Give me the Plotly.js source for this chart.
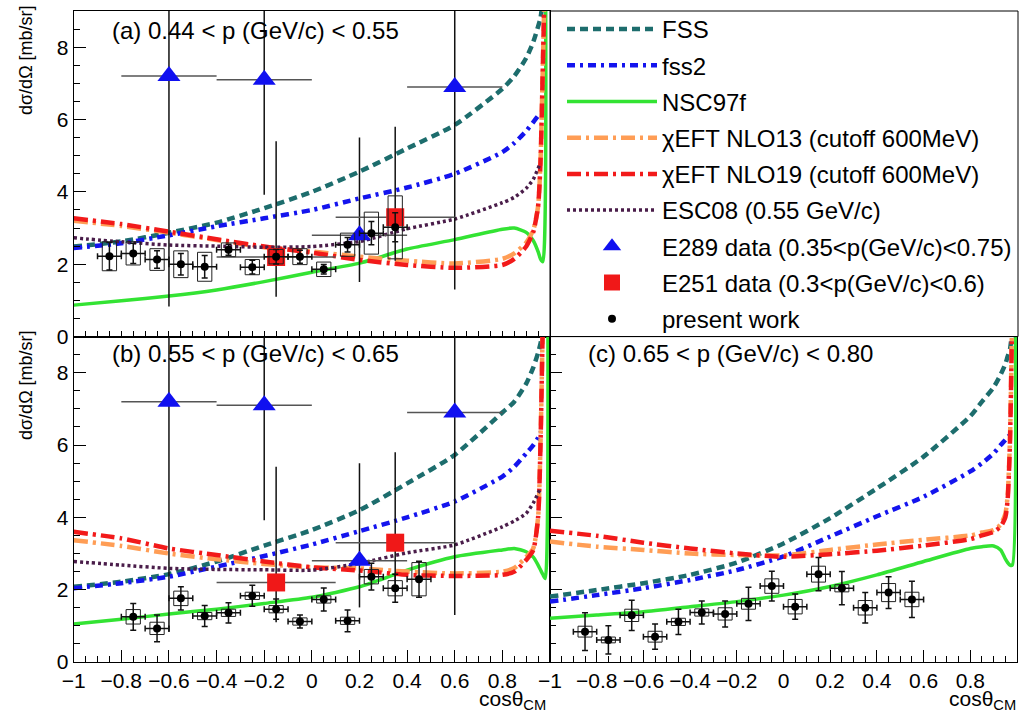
<!DOCTYPE html>
<html><head><meta charset="utf-8">
<script src="https://cdn.plot.ly/plotly-3.0.1.min.js"></script>
<style>html,body{margin:0;padding:0;background:#fff}#chart{width:1022px;height:712px}</style>
</head><body><div id="chart"></div>
<script>
// ---------- data ----------
const cosGrid = [-1,-0.8,-0.6,-0.4,-0.2,0,0.2,0.4,0.6,0.8,0.85,0.9,0.93,0.95,0.96,0.97,0.98,0.99];

// panel (a) 0.44 < p < 0.55
const fssA   = [2.49,2.63,2.87,3.15,3.55,4.0,4.56,5.2,5.85,6.85,7.2,7.7,8.15,8.57,8.8,9.3,null,null];
const fss2A  = [2.45,2.58,2.8,3.05,3.27,3.5,3.82,4.12,4.5,5.1,5.35,5.68,5.93,6.1,6.17,null,null,null];
const nscA   = [0.87,0.99,1.12,1.29,1.52,1.78,2.03,2.42,2.68,2.97,3.0,2.88,2.65,2.35,2.15,2.07,12,null];
const nlo13A = [3.2,3.06,2.87,2.67,2.47,2.35,2.21,2.1,2.02,2.15,2.3,2.6,2.95,3.6,4.8,7.5,10.5,null];
const nlo19A = [3.27,3.11,2.9,2.69,2.49,2.32,2.12,1.98,1.9,1.98,2.15,2.49,2.9,3.6,4.8,7.5,10.5,null];
const escA   = [2.73,2.62,2.53,2.5,2.47,2.49,2.63,2.98,3.25,3.7,3.85,4.1,4.35,4.65,4.8,null,null,null];

// panel (b) 0.55 < p < 0.65
const fssB   = [2.08,2.22,2.43,2.78,3.22,3.65,4.2,4.94,5.73,6.9,7.2,7.7,8.15,8.55,8.8,9.2,null,null];
const fss2B  = [2.04,2.18,2.36,2.64,2.93,3.25,3.62,4.0,4.44,5.13,5.4,5.77,6.0,6.2,6.35,null,null,null];
const nscB   = [1.05,1.18,1.33,1.46,1.62,1.79,2.08,2.54,2.91,3.1,3.14,3.05,2.9,2.68,2.55,2.42,2.31,12];
const nlo13B = [3.37,3.21,3.0,2.84,2.71,2.62,2.59,2.5,2.45,2.5,2.6,2.9,3.15,4.0,6.0,9.5,null,null];
const nlo19B = [3.6,3.42,3.14,2.96,2.78,2.62,2.53,2.41,2.38,2.41,2.5,2.82,3.1,4.0,6.0,9.5,null,null];
const escB   = [2.78,2.68,2.59,2.56,2.55,2.54,2.73,3.02,3.24,3.74,3.9,4.11,4.4,4.67,4.8,null,null,null];

// panel (c) 0.65 < p < 0.80
const fssC   = [1.81,1.99,2.18,2.41,2.75,3.28,3.98,4.8,5.68,6.8,7.2,7.6,7.95,8.24,8.45,8.65,9.2,null];
const fss2C  = [1.67,1.85,2.04,2.27,2.54,2.92,3.47,4.03,4.57,5.27,5.5,5.77,6.0,6.14,6.22,6.28,null,null];
const nscC   = [1.21,1.3,1.39,1.53,1.67,1.85,2.09,2.41,2.78,3.14,3.19,3.21,3.1,2.85,2.75,2.68,2.68,12];
const nlo13C = [3.33,3.19,3.1,3.0,2.96,2.95,3.1,3.25,3.38,3.5,3.58,3.65,3.8,4.1,4.6,6.2,10,null];
const nlo19C = [3.63,3.49,3.3,3.14,3.0,2.91,2.98,3.08,3.22,3.4,3.5,3.6,3.75,4.0,4.5,6.1,10,null];

// E289 data (same in a and b)
const e289X = [-0.6,-0.2,0.2,0.6];
const e289Y = [7.2,7.1,2.8,6.9];
const e289Xerr = [0.2,0.2,0.2,0.2];
const e289Up = [6,6,2.7,6];
const e289Down = [6.37,3.18,1.29,5.6];
// E251 data
const e251X = [-0.15,0.35];
const e251Y = [2.2,3.3];
const e251Xerr = [0.25,0.25];
const e251Up = [3.2,2.5];
const e251Down = [1.1,1.2];

// present work
const presAx = [-0.85,-0.75,-0.65,-0.55,-0.45,-0.35,-0.25,-0.15,-0.05,0.05,0.15,0.25,0.35];
const presAy = [2.22,2.30,2.13,2.0,1.93,2.40,1.92,2.21,2.21,1.86,2.54,2.86,3.02];
const presAstat = [0.38,0.28,0.24,0.3,0.31,0.15,0.19,0.2,0.18,0.13,0.2,0.32,0.4];
const presAsyst = [0.40,0.32,0.30,0.37,0.40,0.19,0.21,0.2,0.22,0.2,0.32,0.58,0.87];

const presBx = [-0.75,-0.65,-0.55,-0.45,-0.35,-0.25,-0.15,-0.05,0.05,0.15,0.25,0.35,0.45];
const presBy = [1.25,0.93,1.76,1.27,1.36,1.83,1.46,1.12,1.73,1.14,2.36,2.04,2.29];
const presBstat = [0.37,0.37,0.32,0.29,0.28,0.29,0.28,0.18,0.32,0.3,0.37,0.39,0.5];
const presBsyst = [0.2,0.17,0.2,0.1,0.1,0.1,0.1,0.1,0.1,0.1,0.2,0.21,0.46];

const presCx = [-0.85,-0.75,-0.65,-0.55,-0.45,-0.35,-0.25,-0.15,-0.05,0.05,0.15,0.25,0.35,0.45,0.55];
const presCy = [0.84,0.61,1.29,0.70,1.11,1.37,1.33,1.61,2.10,1.53,2.43,2.04,1.50,1.92,1.73];
const presCstat = [0.52,0.39,0.42,0.35,0.35,0.32,0.36,0.46,0.41,0.35,0.46,0.46,0.42,0.44,0.5];
const presCsyst = [0.15,0.08,0.17,0.15,0.1,0.1,0.17,0.15,0.2,0.2,0.22,0.1,0.2,0.25,0.2];

const binHalf = 0.05;
const xTickVals = [-1,-0.8,-0.6,-0.4,-0.2,0,0.2,0.4,0.6,0.8,1];
const xTickTextB = ['−1','−0.8','−0.6','−0.4','−0.2','0','0.2','0.4','0.6','0.8',''];
const xTickTextC = ['−1','−0.8','−0.6','−0.4','−0.2','0','0.2','0.4','0.6','0.8','1'];
const yTickVals = [0,2,4,6,8];
const yTickText = ['0','2','4','6','8'];

const names = {
  fss:'FSS', fss2:'fss2', nsc:'NSC97f',
  nlo13:'χEFT NLO13 (cutoff 600MeV)', nlo19:'χEFT NLO19 (cutoff 600MeV)',
  esc:'ESC08 (0.55 GeV/c)',
  e289:'E289 data (0.35&lt;p(GeV/c)&lt;0.75)', e251:'E251 data (0.3&lt;p(GeV/c)&lt;0.6)',
  pres:'present work'
};
const panelLabels = ['(a) 0.44 &lt; p (GeV/c) &lt; 0.55','(b) 0.55 &lt; p (GeV/c) &lt; 0.65','(c) 0.65 &lt; p (GeV/c) &lt; 0.80'];

// ---------- styling / layout ----------
const FONT = 'Liberation Sans, Arial, Helvetica, sans-serif';
const W = 1022, H = 712;
const fx = v => v / W, fy = v => 1 - v / H;
const XL = 73.7, XM = 550, XR = 1017, YT = 11, YM = 336.6, YB = 662;

const STY = {
  fss:  {color:'#1d6d6d', width:4.5, dash:'8px,5px'},
  fss2: {color:'#1414ee', width:4.5, dash:'8px,5px,3px,5px'},
  nsc:  {color:'#33e333', width:3.5, dash:'solid'},
  nlo13:{color:'#ff9d55', width:4.5, dash:'14px,5px,3px,5px'},
  nlo19:{color:'#f21a1a', width:4.5, dash:'14px,5px,3px,5px'},
  esc:  {color:'#4a1d4a', width:3.5, dash:'3px,3px'}
};

const traces = [];
function curve(key, ys, xa, ya, show){
  traces.push({type:'scatter', mode:'lines', x:cosGrid, y:ys, xaxis:xa, yaxis:ya,
    name:names[key], legendgroup:key, showlegend:show, connectgaps:false, hoverinfo:'skip',
    line:Object.assign({shape:'spline', smoothing:0.6}, STY[key])});
}
function boxes(xs, ys, es, xa, ya){
  const X=[], Y=[], hw=0.03;
  xs.forEach((x,i)=>{ const y=ys[i], e=es[i];
    X.push(x-hw,x+hw,x+hw,x-hw,x-hw,null); Y.push(y-e,y-e,y+e,y+e,y-e,null); });
  traces.push({type:'scatter', mode:'lines', x:X, y:Y, xaxis:xa, yaxis:ya, showlegend:false,
    hoverinfo:'skip', connectgaps:false, line:{color:'#222', width:1}});
}
function e289(xa, ya, show){
  traces.push({type:'scatter', mode:'markers', x:e289X, y:e289Y, xaxis:xa, yaxis:ya,
    name:names.e289, legendgroup:'e289', showlegend:show,
    marker:{symbol:'triangle-up', size:20, color:'#1010f0'},
    error_x:{type:'data', array:e289Xerr, color:'#555', thickness:1.5, width:0},
    error_y:{type:'data', symmetric:false, array:e289Up, arrayminus:e289Down, color:'#111', thickness:1.5, width:0}});
}
function e251(xa, ya, show){
  traces.push({type:'scatter', mode:'markers', x:e251X, y:e251Y, xaxis:xa, yaxis:ya,
    name:names.e251, legendgroup:'e251', showlegend:show,
    marker:{symbol:'square', size:18, color:'#f01818'},
    error_x:{type:'data', array:e251Xerr, color:'#555', thickness:1.5, width:0},
    error_y:{type:'data', symmetric:false, array:e251Up, arrayminus:e251Down, color:'#111', thickness:1.5, width:0}});
}
function pres(xs, ys, st, xa, ya, show){
  traces.push({type:'scatter', mode:'markers', x:xs, y:ys, xaxis:xa, yaxis:ya,
    name:names.pres, legendgroup:'pres', showlegend:show,
    marker:{symbol:'circle', size:8, color:'#000'},
    error_x:{type:'constant', value:binHalf, color:'#111', thickness:1.5, width:3},
    error_y:{type:'data', array:st, color:'#111', thickness:1.5, width:3}});
}

// panel a
curve('fss', fssA, 'x', 'y', true);
curve('fss2', fss2A, 'x', 'y', true);
curve('nsc', nscA, 'x', 'y', true);
curve('nlo13', nlo13A, 'x', 'y', true);
curve('nlo19', nlo19A, 'x', 'y', true);
curve('esc', escA, 'x', 'y', true);
e289('x','y',true); e251('x','y',true);
boxes(presAx, presAy, presAsyst, 'x', 'y');
pres(presAx, presAy, presAstat, 'x', 'y', true);
// panel b
curve('fss', fssB, 'x2', 'y2', false);
curve('fss2', fss2B, 'x2', 'y2', false);
curve('nsc', nscB, 'x2', 'y2', false);
curve('nlo13', nlo13B, 'x2', 'y2', false);
curve('nlo19', nlo19B, 'x2', 'y2', false);
curve('esc', escB, 'x2', 'y2', false);
e289('x2','y2',false); e251('x2','y2',false);
boxes(presBx, presBy, presBsyst, 'x2', 'y2');
pres(presBx, presBy, presBstat, 'x2', 'y2', false);
// panel c
curve('fss', fssC, 'x3', 'y3', false);
curve('fss2', fss2C, 'x3', 'y3', false);
curve('nsc', nscC, 'x3', 'y3', false);
curve('nlo13', nlo13C, 'x3', 'y3', false);
curve('nlo19', nlo19C, 'x3', 'y3', false);
boxes(presCx, presCy, presCsyst, 'x3', 'y3');
pres(presCx, presCy, presCstat, 'x3', 'y3', false);

const axBase = {showgrid:false, zeroline:false, showline:true, linecolor:'#000', linewidth:1, mirror:true,
  ticks:'inside', tickcolor:'#000', tickwidth:1, tickfont:{family:FONT, size:21, color:'#000'}, fixedrange:true};
function xAxis(dom, anchor, text){
  return Object.assign({}, axBase, {domain:dom, anchor:anchor, range:[-1,1], tickmode:'array',
    tickvals:xTickVals, ticktext:text || xTickVals.map(()=>''), showticklabels:!!text, ticklen:12,
    minor:{tick0:-1, dtick:0.05, ticks:'inside', ticklen:6, tickcolor:'#000', tickwidth:1}});
}
function yAxis(dom, anchor, labels){
  return Object.assign({}, axBase, {domain:dom, anchor:anchor, range:[0,9], tickmode:'array',
    tickvals:yTickVals, ticktext:yTickText, showticklabels:labels, ticklen:12,
    minor:{tick0:0, dtick:0.5, ticks:'inside', ticklen:6, tickcolor:'#000', tickwidth:1}});
}

const ann = [];
const labelPos = [[110, 30], [110, 353], [586, 353]];
panelLabels.forEach((t,i)=>ann.push({xref:'paper', yref:'paper', x:fx(labelPos[i][0]), y:fy(labelPos[i][1]),
  xanchor:'left', yanchor:'middle', showarrow:false, text:t, font:{family:FONT, size:24, color:'#000'}}));
[[548,700],[1018,700]].forEach(p=>ann.push({xref:'paper', yref:'paper', x:fx(p[0]), y:fy(p[1]),
  xanchor:'right', yanchor:'middle', showarrow:false, text:'cosθ<sub>CM</sub>', font:{family:FONT, size:21, color:'#000'}}));
[[26,60],[26,385]].forEach(p=>ann.push({xref:'paper', yref:'paper', x:fx(p[0]), y:fy(p[1]),
  xanchor:'center', yanchor:'middle', textangle:-90, showarrow:false, text:'dσ/dΩ [mb/sr]', font:{family:FONT, size:18, color:'#000'}}));

const layout = {
  width:W, height:H, margin:{l:0, r:0, t:0, b:0}, paper_bgcolor:'#fff', plot_bgcolor:'rgba(0,0,0,0)',
  font:{family:FONT, color:'#000'},
  xaxis: xAxis([fx(XL), fx(XM)], 'y', null),
  yaxis: yAxis([fy(YM), fy(YT)], 'x', true),
  xaxis2: xAxis([fx(XL), fx(XM)], 'y2', xTickTextB),
  yaxis2: yAxis([fy(YB), fy(YM)], 'x2', true),
  xaxis3: xAxis([fx(XM), fx(XR)], 'y3', xTickTextC),
  yaxis3: yAxis([fy(YB), fy(YM)], 'x3', false),
  showlegend:true,
  legend:{x:fx(562), y:fy(YT-4), xanchor:'left', yanchor:'top', bgcolor:'rgba(0,0,0,0)', borderwidth:0,
    font:{family:FONT, size:24, color:'#000'}, itemwidth:90, tracegroupgap:2, traceorder:'grouped', itemsizing:'trace'},
  shapes:[{type:'rect', xref:'paper', yref:'paper', x0:fx(XM), x1:fx(1018), y0:fy(YM), y1:fy(YT), line:{color:'#000', width:1}}],
  annotations: ann
};
Plotly.newPlot('chart', traces, layout, {staticPlot:true});
</script></body></html>
